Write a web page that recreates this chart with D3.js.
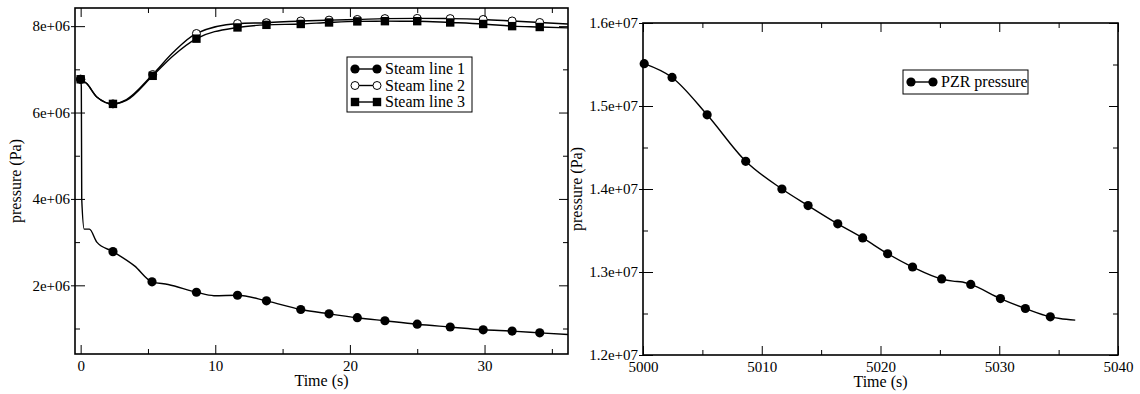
<!DOCTYPE html>
<html>
<head>
<meta charset="utf-8">
<script src="https://cdn.jsdelivr.net/npm/d3@7"></script>
</head>
<body style="margin:0">
<svg id="chart" width="1140" height="394" font-family="Liberation Serif"></svg>
<script>
// ---- data ----
// Left panel: steam line pressures, time in s, pressure in Pa.
const steamTime = [0, 0.05, 0.08, 0.27, 0.65, 1.2, 2.4, 4.0, 5.3, 6.5, 8.6, 9.9, 11.65, 13.8,
  16.35, 18.45, 20.55, 22.6, 25.0, 27.45, 29.9, 32.05, 34.1, 36.2];
const steamLine1 = [6.77e6, 6.6e6, 4.0e6, 3.3e6, 3.3e6, 3.0e6, 2.78e6, 2.45e6, 2.08e6, 2.02e6,
  1.84e6, 1.76e6, 1.77e6, 1.64e6, 1.44e6, 1.34e6, 1.25e6, 1.18e6, 1.10e6, 1.035e6,
  0.97e6, 0.94e6, 0.90e6, 0.86e6];

const steamTime23 = [0, 0.45, 1.2, 2.4, 3.4, 5.35, 6.9, 8.6, 11.65, 13.8, 16.35, 18.45, 20.55,
  22.6, 25.0, 27.45, 29.9, 32.05, 34.1, 36.2];
const steamLine2 = [6.77e6, 6.67e6, 6.36e6, 6.20e6, 6.30e6, 6.88e6, 7.40e6, 7.83e6, 8.06e6,
  8.08e6, 8.12e6, 8.14e6, 8.155e6, 8.175e6, 8.18e6, 8.175e6, 8.155e6, 8.12e6, 8.085e6, 8.05e6];
const steamLine3 = [6.77e6, 6.67e6, 6.36e6, 6.20e6, 6.28e6, 6.85e6, 7.32e6, 7.71e6, 7.97e6,
  8.03e6, 8.05e6, 8.085e6, 8.11e6, 8.115e6, 8.115e6, 8.085e6, 8.05e6, 8.0e6, 7.98e6, 7.96e6];

// times at which symbols are drawn
const steamMarkTimes = [0, 2.4, 5.3, 5.35, 8.6, 11.65, 13.8, 16.35, 18.45, 20.55, 22.6, 25.0,
  27.45, 29.9, 32.05, 34.1];

// Right panel: pressurizer pressure.
const pzrTime = [5000.1, 5002.45, 5005.4, 5008.65, 5011.7, 5013.9, 5016.4, 5018.5, 5020.6,
  5022.7, 5025.15, 5026.1, 5026.9, 5027.6, 5030.1, 5032.2, 5034.3, 5035.1, 5036.4];
const pzrPressure = [15.51e6, 15.344e6, 14.894e6, 14.334e6, 14.0e6, 13.80e6, 13.58e6, 13.41e6,
  13.22e6, 13.06e6, 12.916e6, 12.89e6, 12.88e6, 12.85e6, 12.68e6, 12.56e6, 12.46e6, 12.44e6, 12.42e6];
const pzrMarkTimes = [5000.1, 5002.45, 5005.4, 5008.65, 5011.7, 5013.9, 5016.4, 5018.5, 5020.6,
  5022.7, 5025.15, 5027.6, 5030.1, 5032.2, 5034.3];

// axis ticks
const leftXMajor = [0, 10, 20, 30];
const leftXMinor = [5, 15, 25, 35];
const leftYMajor = [2e6, 4e6, 6e6, 8e6];
const leftYMinor = [1e6, 3e6, 5e6, 7e6];
const rightXMajor = [5000, 5010, 5020, 5030, 5040];
const rightXMinor = [5005, 5015, 5025, 5035];
const rightYMajor = [1.2e7, 1.3e7, 1.4e7, 1.5e7, 1.6e7];
const rightYMinor = [1.25e7, 1.35e7, 1.45e7, 1.55e7];

const steamLabels = ["Steam line 1", "Steam line 2", "Steam line 3"];
const pzrLabels = ["PZR pressure"];

// ---- helpers ----
const svg = d3.select("#chart");

function serif(sel, size) {
  return sel.attr("font-family", "Liberation Serif").attr("font-size", size)
    .style("font-family", "'Liberation Serif'").style("font-size", size + "px");
}

function sciFormat(v) {
  const e = Math.floor(Math.log10(v) + 1e-9);
  const m = +(v / Math.pow(10, e)).toFixed(3);
  return `${m}e+${String(e).padStart(2, "0")}`;
}

function drawSymbol(g, kind, cx, cy) {
  if (kind === "circle") {
    g.append("circle").attr("cx", cx).attr("cy", cy).attr("r", 4.6).attr("fill", "#000");
  } else if (kind === "open") {
    g.append("circle").attr("cx", cx).attr("cy", cy).attr("r", 4)
      .attr("fill", "#fff").attr("stroke", "#000").attr("stroke-width", 1);
  } else {
    g.append("rect").attr("x", cx - 4.2).attr("y", cy - 4.2).attr("width", 8.4).attr("height", 8.4)
      .attr("fill", "#000");
  }
}

function ticks(g, axis, transform, values, size, fmt) {
  const a = g.append("g").attr("transform", transform)
    .call(axis.tickValues(values).tickSize(size).tickFormat(fmt || ""));
  serif(a, 15);
  a.select(".domain").remove();
  a.selectAll("line").attr("stroke", "#000").attr("stroke-width", 1);
  serif(a.selectAll("text"), 15).attr("fill", "#000");
  return a;
}

function drawPanel(p) {
  const g = svg.append("g");
  const x = d3.scaleLinear().domain(p.xDomain).range([p.left, p.right]);
  const y = d3.scaleLinear().domain(p.yDomain).range([p.bottom, p.top]);

  // curves, then symbols, in drawing order
  const line = d3.line().x((d) => x(d[0])).y((d) => y(d[1])).curve(d3.curveMonotoneX);
  p.drawOrder.forEach((k) => {
    const s = p.series[k];
    const pts = s.t.map((t, i) => [t, s.v[i]]);
    g.append("path").attr("d", line(pts)).attr("fill", "none")
      .attr("stroke", "#000").attr("stroke-width", 1.4);
  });
  p.drawOrder.forEach((k) => {
    const s = p.series[k];
    s.t.forEach((t, i) => {
      if (s.marks.includes(t)) drawSymbol(g, s.symbol, x(t), y(s.v[i]));
    });
  });

  // frame
  g.append("rect").attr("x", p.left).attr("y", p.top)
    .attr("width", p.right - p.left).attr("height", p.bottom - p.top)
    .attr("fill", "none").attr("stroke", "#000").attr("stroke-width", 1.6);

  // bottom axis with labels
  const bx = ticks(g, d3.axisBottom(x), `translate(0,${p.bottom})`, p.xMajor, -9, d3.format("d"));
  bx.selectAll("text").attr("y", 17).attr("dy", null);
  ticks(g, d3.axisBottom(x), `translate(0,${p.bottom})`, p.xMinor, -5);
  // top
  ticks(g, d3.axisTop(x), `translate(0,${p.top})`, p.xMajor, -9);
  ticks(g, d3.axisTop(x), `translate(0,${p.top})`, p.xMinor, -5);
  // left axis with labels
  const ly = ticks(g, d3.axisLeft(y).tickPadding(5), `translate(${p.left},0)`, p.yMajor, -10, sciFormat);
  ly.selectAll("line").attr("x1", -4);
  ticks(g, d3.axisLeft(y), `translate(${p.left},0)`, p.yMinor, -5);
  // right
  ticks(g, d3.axisRight(y), `translate(${p.right},0)`, p.yMajor, -9);
  ticks(g, d3.axisRight(y), `translate(${p.right},0)`, p.yMinor, -5);

  // axis titles
  serif(g.append("text"), 16).attr("x", (p.left + p.right) / 2).attr("y", p.bottom + 32)
    .attr("text-anchor", "middle").text("Time (s)");
  serif(g.append("text"), 16)
    .attr("transform", `translate(${p.yTitleX},${(p.top + p.bottom) / 2}) rotate(-90)`)
    .attr("text-anchor", "middle").text("pressure (Pa)");

  // legend
  const lg = g.append("g");
  lg.append("rect").attr("x", p.legend.x).attr("y", p.legend.y)
    .attr("width", p.legend.w).attr("height", p.legend.h)
    .attr("fill", "#fff").attr("stroke", "#000").attr("stroke-width", 1);
  p.series.forEach((s, i) => {
    const cy = p.legend.y + 12 + i * 16.5;
    const x0 = p.legend.x + 8, x1 = p.legend.x + 30;
    lg.append("line").attr("x1", x0).attr("x2", x1).attr("y1", cy).attr("y2", cy)
      .attr("stroke", "#000").attr("stroke-width", 1.4);
    drawSymbol(lg, s.symbol, x0, cy);
    drawSymbol(lg, s.symbol, x1, cy);
    serif(lg.append("text"), 16).attr("x", p.legend.x + 38).attr("y", cy + 5.3)
      .text(p.labels[i]);
  });
}

drawPanel({
  left: 75, right: 568, top: 8, bottom: 354,
  xDomain: [-0.42, 36.2], yDomain: [0.41e6, 8.42e6],
  xMajor: leftXMajor, xMinor: leftXMinor, yMajor: leftYMajor, yMinor: leftYMinor,
  yTitleX: 21,
  series: [
    { t: steamTime, v: steamLine1, symbol: "circle", marks: steamMarkTimes },
    { t: steamTime23, v: steamLine2, symbol: "open", marks: steamMarkTimes },
    { t: steamTime23, v: steamLine3, symbol: "square", marks: steamMarkTimes }
  ],
  drawOrder: [1, 2, 0],
  labels: steamLabels,
  legend: { x: 347, y: 57, w: 125, h: 55 }
});

drawPanel({
  left: 643, right: 1118, top: 23, bottom: 355,
  xDomain: [5000, 5040], yDomain: [1.2e7, 1.6e7],
  xMajor: rightXMajor, xMinor: rightXMinor, yMajor: rightYMajor, yMinor: rightYMinor,
  yTitleX: 582,
  series: [
    { t: pzrTime, v: pzrPressure, symbol: "circle", marks: pzrMarkTimes }
  ],
  drawOrder: [0],
  labels: pzrLabels,
  legend: { x: 903, y: 70, w: 125, h: 24 }
});
</script>
</body>
</html>
